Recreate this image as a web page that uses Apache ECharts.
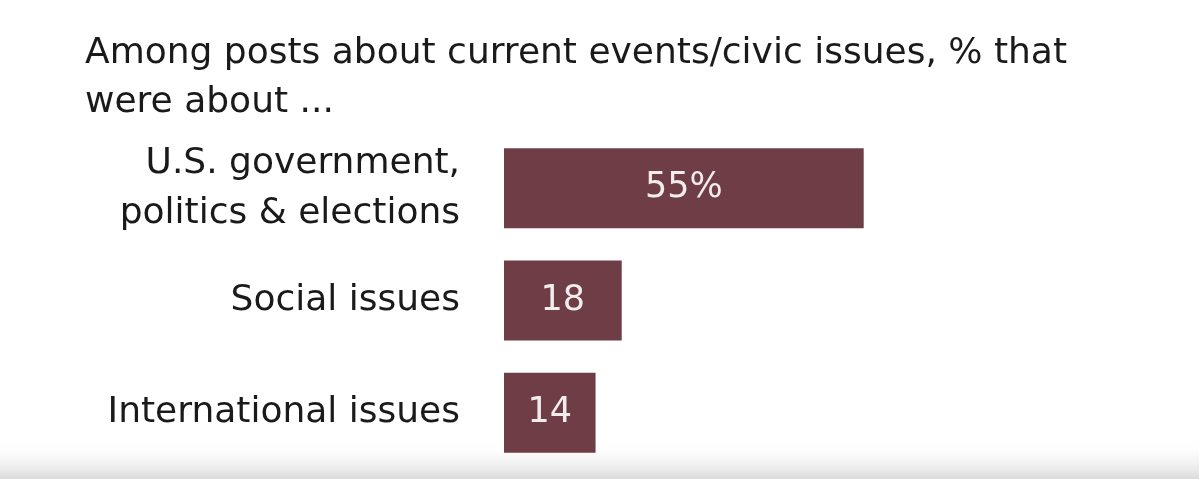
<!DOCTYPE html>
<html>
<head>
<meta charset="utf-8">
<script src="https://cdn.jsdelivr.net/npm/echarts@6/dist/echarts.min.js"></script>
<style>
  html, body { margin: 0; padding: 0; background: #fff; }
  #chart { width: 1199px; height: 479px; }
</style>
</head>
<body>
<div id="chart"></div>
<script>
// values
var topics = ['U.S. government,\npolitics & elections', 'Social issues', 'International issues'];
var shares = [55, 18, 14];
var subtitle = 'Among posts about current events/civic issues, % that\nwere about ...';

var chartDom = document.getElementById('chart');
var myChart = echarts.init(chartDom);

var option = {
    backgroundColor: '#ffffff',
    animation: false,
    title: {
        text: subtitle,
        left: 80,
        top: 24,
        textStyle: {
            fontFamily: 'DejaVu Sans',
            fontSize: 36,
            fontWeight: 'normal',
            color: '#1a1a1a',
            lineHeight: 49
        }
    },
    graphic: [
        {
            type: 'rect',
            z: -10,
            silent: true,
            shape: { x: 0, y: 440, width: 1199, height: 39 },
            style: {
                fill: new echarts.graphic.LinearGradient(0, 0, 0, 1, [
                    { offset: 0, color: 'rgba(255,255,255,0)' },
                    { offset: 1, color: 'rgba(218,218,218,1)' }
                ])
            }
        }
    ],
    grid: {
        left: 504,
        right: 41,
        top: 132,
        bottom: 10
    },
    xAxis: {
        type: 'value',
        min: 0,
        max: 100,
        show: false
    },
    yAxis: {
        type: 'category',
        inverse: true,
        data: topics,
        axisLine: { show: false },
        axisTick: { show: false },
        axisLabel: {
            margin: 44,
            fontFamily: 'DejaVu Sans',
            fontSize: 36,
            color: '#1a1a1a',
            lineHeight: 50
        }
    },
    series: [
        {
            type: 'bar',
            data: shares,
            barWidth: 80,
            itemStyle: { color: '#6f3d45' },
            label: {
                show: true,
                position: 'inside',
                fontFamily: 'DejaVu Sans',
                fontSize: 35,
                color: '#f3ecec',
                formatter: function (p) {
                    return p.dataIndex === 0 ? p.value + '%' : p.value;
                }
            }
        }
    ]
};

myChart.setOption(option);
</script>
</body>
</html>
